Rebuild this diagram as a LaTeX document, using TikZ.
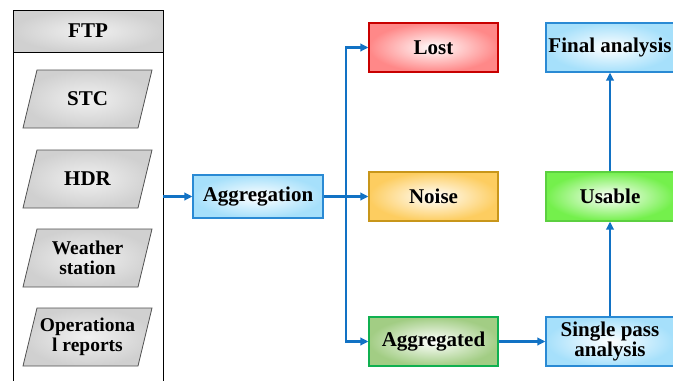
\documentclass[tikz,border=0pt]{standalone}
\usepackage{fontspec}
\setmainfont{Liberation Serif}
\usetikzlibrary{arrows.meta}

\definecolor{flowblue}{HTML}{1272C4}
\definecolor{skyfill}{HTML}{A6E0FB}
\definecolor{skyline}{HTML}{2A8AD4}
\definecolor{redfill}{HTML}{FF8888}
\definecolor{redline}{HTML}{C80000}
\definecolor{yelfill}{HTML}{FDCD60}
\definecolor{yelline}{HTML}{C8961A}
\definecolor{grnfill}{HTML}{A2CD84}
\definecolor{grnline}{HTML}{10B050}
\definecolor{limefill}{HTML}{74F04C}
\definecolor{limeline}{HTML}{5CD040}
\definecolor{greyfill}{HTML}{D0D0D0}
\definecolor{greyline}{HTML}{505050}

\tikzset{
  box/.style={rectangle, line width=1.2pt, minimum width=129pt, minimum height=49pt,
    inner sep=0pt, align=center, shading=radial, inner color=white},
  skybox/.style={box, draw=skyline, outer color=skyfill},
  redbox/.style={box, draw=redline, outer color=redfill},
  yelbox/.style={box, draw=yelline, outer color=yelfill},
  grnbox/.style={box, draw=grnline, outer color=grnfill},
  limebox/.style={box, draw=limeline, outer color=limefill},
  ftphead/.style={rectangle, draw=black, line width=1pt, minimum width=150pt, minimum height=42pt,
    inner sep=0pt, shading=radial, inner color=white!70!greyfill, outer color=greyfill},
  itemtext/.style={align=center, inner sep=0pt},
  itemshape/.style={draw=greyline, line width=0.8pt, inner color=white!70!greyfill, outer color=greyfill},
  colline/.style={draw=black, line width=1pt},
  flow/.style={draw=flowblue, line width=2.2pt, -{Triangle[length=8pt,width=7.5pt]}}
}

% slanted input item of the FTP column: name, centre y, text
\newcommand\ftpitem[3]{%
  \shadedraw[itemshape] (23,#2+29) -- (37,#2-29) -- (152,#2-29) -- (138,#2+29) -- cycle;
  \node[itemtext] (#1) at (87.5,#2) {#3};}
\newcommand\smallfs{\fontsize{19.5}{19.5}\selectfont}

\begin{document}
\begin{tikzpicture}[x=1pt, y=-1pt, font=\fontsize{21}{20}\selectfont\bfseries]
\useasboundingbox (0,0) rectangle (673,381);

% FTP column
\node[ftphead] (ftp) at (88,31) {FTP};
\coordinate (colTL) at (13,52);
\coordinate (colBL) at (13,381);
\coordinate (colTR) at (163,52);
\coordinate (colBR) at (163,381);
\draw[colline] (colTL) -- (colBL);
\draw[colline] (colTR) -- (colBR);

\ftpitem{stc}{99}{STC}
\ftpitem{hdr}{179}{HDR}
\ftpitem{wst}{258}{\smallfs Weather\\\smallfs station}
\ftpitem{ops}{337}{\smallfs Operationa\\\smallfs l reports}

% processing boxes
\node[skybox, minimum width=130pt, minimum height=43pt] (agg) at (258,196.5) {Aggregation};
\node[redbox] (lost) at (433.5,47.5) {Lost};
\node[yelbox] (noise) at (433.5,196.5) {Noise};
\node[grnbox] (aggd) at (433.5,341.5) {Aggregated};
\node[skybox, minimum width=128pt] (final) at (610,47.5) {Final analysis};
\node[limebox, minimum width=128pt] (usable) at (610,196.5) {Usable};
\node[skybox, minimum width=128pt] (spa) at (610,341.5) {Single pass\\analysis};

% connectors
\coordinate (colout) at (163,196.5);
\coordinate (split) at (346,196.5);
\draw[flow] (colout) -- (agg);
\draw[flow] (agg) -- (noise);
\draw[flow] (split) |- (lost);
\draw[flow] (split) |- (aggd);
\draw[flow] (aggd) -- (spa);
\draw[flow] (spa) -- (usable);
\draw[flow] (usable) -- (final);
\end{tikzpicture}
\end{document}
